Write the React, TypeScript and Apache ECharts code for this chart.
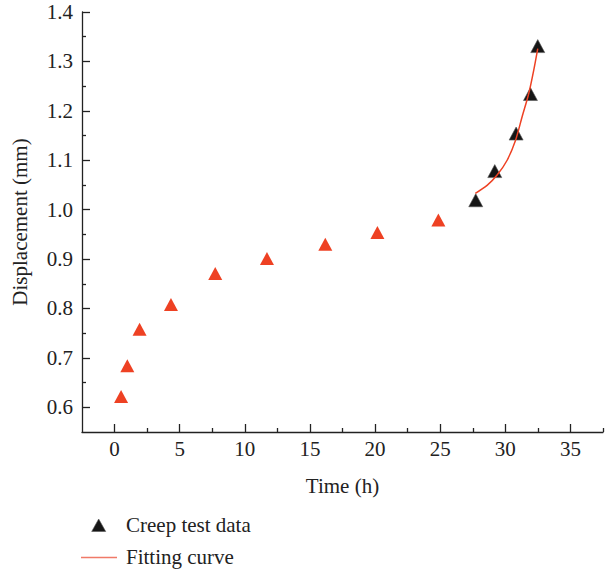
import React, { useEffect, useRef } from "react";
import * as echarts from "echarts";

const redTime = [0.5, 0.98, 1.92, 4.33, 7.73, 11.7, 16.18, 20.18, 24.86];
const redDisp = [0.622, 0.684, 0.758, 0.808, 0.871, 0.901, 0.93, 0.954, 0.979];
const blackTime = [27.73, 29.19, 30.83, 31.93, 32.49];
const blackDisp = [1.019, 1.078, 1.154, 1.234, 1.331];
const fitTime = [27.7, 28.6, 29.37, 30.14, 30.78, 31.29, 31.8, 32.18, 32.49];
const fitDisp = [1.033, 1.049, 1.07, 1.1, 1.14, 1.188, 1.235, 1.282, 1.326];
const xMajor = [0, 5, 10, 15, 20, 25, 30, 35];
const xMinor = [2.5, 7.5, 12.5, 17.5, 22.5, 27.5, 32.5, 37.5];
const yMajor = [0.6, 0.7, 0.8, 0.9, 1.0, 1.1, 1.2, 1.3, 1.4];
const yMinor = [0.65, 0.75, 0.85, 0.95, 1.05, 1.15, 1.25, 1.35];
const legendNames = ["Creep test data", "Fitting curve"];

const FONT = "Liberation Serif";
const FS = 21;
const AX = "#222";
const RED = "#ee4123";
const BLACK = "#161616";

export default function App() {
  const ref = useRef<HTMLDivElement>(null);
  useEffect(() => {
    const chart = echarts.init(ref.current!, null, { renderer: "svg" });
    const xBase = { type: "value", min: -2.5, max: 37.5, gridIndex: 0 } as any;
    const yBase = { type: "value", min: 0.55, max: 1.4, gridIndex: 0 } as any;
    const txt = { fontFamily: FONT, fontSize: FS, color: "#222" };
    chart.setOption({
      animation: false,
      backgroundColor: "#fff",
      textStyle: { fontFamily: FONT },
      grid: { left: 82, right: 7, top: 12, bottom: 139, containLabel: false },
      graphic: [
        {
          type: "polygon",
          shape: { points: [[98.7, 519], [105.7, 531.5], [91.7, 531.5]] },
          style: { fill: BLACK, stroke: "#555", lineWidth: 0.6 },
        },
        {
          type: "text",
          x: 126,
          y: 525,
          style: { text: legendNames[0], ...txt, fill: "#222", verticalAlign: "middle" },
        },
        {
          type: "line",
          shape: { x1: 81, y1: 557.5, x2: 117, y2: 557.5 },
          style: { stroke: "#f07a68", lineWidth: 1.4 },
        },
        {
          type: "text",
          x: 126,
          y: 557,
          style: { text: legendNames[1], ...txt, fill: "#222", verticalAlign: "middle" },
        },
      ],
      xAxis: [
        {
          ...xBase,
          name: "Time (h)",
          nameLocation: "middle",
          nameGap: 43,
          nameTextStyle: txt,
          axisLine: { show: true, onZero: false, lineStyle: { color: AX, width: 1.3 } },
          axisTick: { show: true, inside: true, length: 8, customValues: xMajor, lineStyle: { color: AX, width: 1.3 } },
          axisLabel: {
            customValues: xMajor,
            margin: 6,
            ...txt,
            formatter: (v: number) => String(v),
          },
          splitLine: { show: false },
        },
        {
          ...xBase,
          position: "bottom",
          axisLine: { show: false, onZero: false },
          axisTick: { show: true, inside: true, length: 4, customValues: xMinor, lineStyle: { color: AX, width: 1.3 } },
          axisLabel: { show: false },
          splitLine: { show: false },
        },
      ],
      yAxis: [
        {
          ...yBase,
          name: "Displacement (mm)",
          nameLocation: "middle",
          nameGap: 52,
          nameTextStyle: txt,
          axisLine: { show: true, onZero: false, lineStyle: { color: AX, width: 1.3 } },
          axisTick: { show: true, inside: true, length: 8, customValues: yMajor, lineStyle: { color: AX, width: 1.3 } },
          axisLabel: {
            customValues: yMajor,
            margin: 9,
            ...txt,
            formatter: (v: number) => v.toFixed(1),
          },
          splitLine: { show: false },
        },
        {
          ...yBase,
          position: "left",
          axisLine: { show: false, onZero: false },
          axisTick: { show: true, inside: true, length: 4, customValues: yMinor, lineStyle: { color: AX, width: 1.3 } },
          axisLabel: { show: false },
          splitLine: { show: false },
        },
      ],
      series: [
        {
          name: "Early data",
          type: "scatter",
          symbol: "triangle",
          symbolSize: [14, 13],
          itemStyle: { color: RED, opacity: 1 },
          data: redTime.map((t, i) => [t, redDisp[i]]),
          z: 3,
        },
        {
          name: legendNames[0],
          type: "scatter",
          symbol: "triangle",
          symbolSize: [14, 13],
          itemStyle: { color: BLACK, borderColor: "#555", borderWidth: 0.6, opacity: 1 },
          data: blackTime.map((t, i) => [t, blackDisp[i]]),
          z: 3,
        },
        {
          name: legendNames[1],
          type: "line",
          smooth: 0.3,
          symbol: "none",
          lineStyle: { color: RED, width: 1.5 },
          data: fitTime.map((t, i) => [t, fitDisp[i]]),
          z: 4,
        },
      ],
    });
    return () => chart.dispose();
  }, []);
  return <div ref={ref} style={{ width: 610, height: 571, position: "absolute", left: 0, top: 0 }} />;
}
